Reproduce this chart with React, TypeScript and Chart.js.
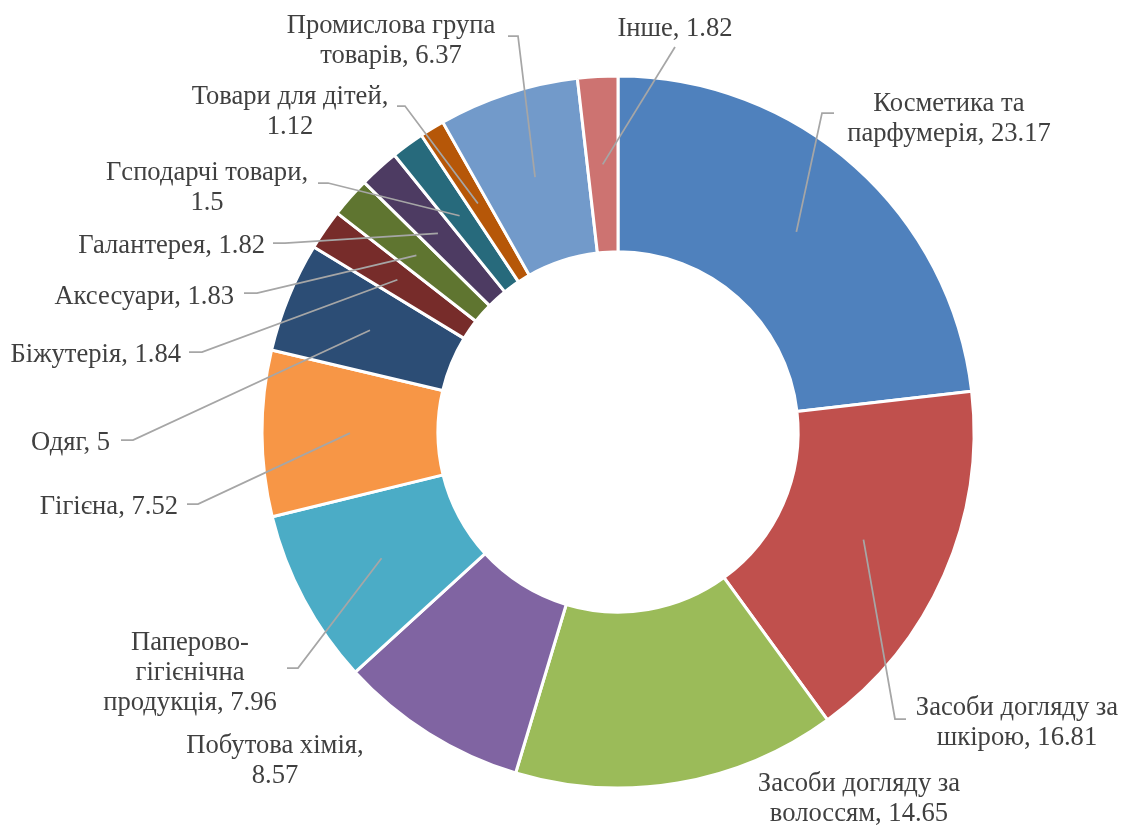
import React, { useEffect, useRef } from "react";
import { Chart, registerables } from "chart.js";

Chart.register(...registerables);

// ---- Data ----
const categories = [
  "Косметика та парфумерія",
  "Засоби догляду за шкірою",
  "Засоби догляду за волоссям",
  "Побутова хімія",
  "Паперово-гігієнічна продукція",
  "Гігієна",
  "Одяг",
  "Біжутерія",
  "Аксесуари",
  "Галантерея",
  "Гсподарчі товари",
  "Товари для дітей",
  "Промислова група товарів",
  "Інше",
];
const values = [23.17, 16.81, 14.65, 8.57, 7.96, 7.52, 5, 1.84, 1.83, 1.82, 1.5, 1.12, 6.37, 1.82];
const colors = [
  "#4F81BD", "#C0504D", "#9BBB59", "#8064A2", "#4BACC6", "#F79646", "#2C4D75",
  "#772C2A", "#5F7530", "#4D3B62", "#276A7C", "#B65708", "#729ACA", "#CD7371",
];

// ---- Label layout (positions only; y = first baseline) ----
type LabelLayout = {
  x: number;
  y: number;
  align: "center" | "right";
  maxW: number;
  leader: number[][] | null;
};
const labelLayout: LabelLayout[] = [
  { x: 949, y: 111, align: "center", maxW: 218, leader: [[822, 113], [834, 113]] },
  { x: 1017, y: 715, align: "center", maxW: 215, leader: [[895, 719], [906, 719]] },
  { x: 859, y: 791, align: "center", maxW: 215, leader: null },
  { x: 275, y: 753, align: "center", maxW: 205, leader: null },
  { x: 190, y: 650, align: "center", maxW: 186, leader: [[298, 668], [287, 668]] },
  { x: 178, y: 514, align: "right", maxW: 1000, leader: [[198, 504], [187, 504]] },
  { x: 110, y: 450, align: "right", maxW: 1000, leader: [[133, 440], [121, 440]] },
  { x: 181, y: 362, align: "right", maxW: 1000, leader: [[202, 352], [189, 352]] },
  { x: 234, y: 304, align: "right", maxW: 1000, leader: [[257, 293], [244, 293]] },
  { x: 265, y: 253, align: "right", maxW: 1000, leader: [[285, 243], [273, 243]] },
  { x: 207, y: 180, align: "center", maxW: 222, leader: [[328, 183], [318, 183]] },
  { x: 290, y: 104, align: "center", maxW: 216, leader: [[405, 106], [397, 106]] },
  { x: 391, y: 33, align: "center", maxW: 222, leader: [[518, 36], [508, 36]] },
  { x: 675, y: 36, align: "center", maxW: 300, leader: [[675, 47]] },
];

const FONT_SIZE = 26.6;
const LINE_H = 30;
// baseline offset from top of a line box for Liberation Serif (ascent .891, descent .216)
const BASE_OFF = (LINE_H - FONT_SIZE * 1.107) / 2 + FONT_SIZE * 0.891;
const TEXT_COLOR = "#404040";
const LEADER_COLOR = "#A6A6A6";

const leaderPlugin = {
  id: "leaderLines",
  afterDatasetsDraw(chart: any) {
    const ctx: CanvasRenderingContext2D = chart.ctx;
    const meta = chart.getDatasetMeta(0);
    ctx.save();
    ctx.strokeStyle = LEADER_COLOR;
    ctx.lineWidth = 1.75;
    meta.data.forEach((arc: any, i: number) => {
      const lay = labelLayout[i];
      if (!lay.leader) return;
      const p = arc.getProps(["x", "y", "startAngle", "endAngle", "innerRadius", "outerRadius"], true);
      const mid = (p.startAngle + p.endAngle) / 2;
      const r = (p.innerRadius + p.outerRadius) / 2;
      ctx.beginPath();
      ctx.moveTo(p.x + Math.cos(mid) * r, p.y + Math.sin(mid) * r);
      lay.leader.forEach((pt) => ctx.lineTo(pt[0], pt[1]));
      ctx.stroke();
    });
    ctx.restore();
  },
};

export default function App() {
  const ref = useRef<HTMLCanvasElement | null>(null);
  useEffect(() => {
    if (!ref.current) return;
    const chart = new Chart(ref.current, {
      type: "doughnut",
      data: {
        labels: categories,
        datasets: [
          {
            data: values,
            backgroundColor: colors,
            borderColor: "#ffffff",
            borderWidth: 3,
          },
        ],
      },
      options: {
        responsive: false,
        animation: false,
        radius: 356,
        cutout: "50.6%",
        layout: { padding: { left: 105, right: 0, top: 38, bottom: 0 } },
        plugins: {
          legend: { display: false },
          tooltip: { enabled: false },
        },
      } as any,
      plugins: [leaderPlugin],
    });
    return () => {
      chart.destroy();
    };
  }, []);

  return (
    <div
      style={{
        position: "absolute",
        left: 0,
        top: 0,
        width: 1131,
        height: 826,
        background: "#fff",
        overflow: "hidden",
        fontFamily: '"Liberation Serif", "Times New Roman", serif',
        fontSize: FONT_SIZE,
        lineHeight: `${LINE_H}px`,
        color: TEXT_COLOR,
      }}
    >
      <canvas ref={ref} width={1131} height={826} style={{ position: "absolute", left: 0, top: 0 }} />
      {labelLayout.map((lay, i) => {
        const text = `${categories[i]}, ${values[i]}`;
        const top = lay.y - BASE_OFF;
        const style: React.CSSProperties =
          lay.align === "center"
            ? { position: "absolute", top, left: lay.x - lay.maxW / 2, width: lay.maxW, textAlign: "center" }
            : { position: "absolute", top, right: 1131 - lay.x, whiteSpace: "nowrap", textAlign: "right" };
        return (
          <div key={i} style={style}>
            {text}
          </div>
        );
      })}
    </div>
  );
}
